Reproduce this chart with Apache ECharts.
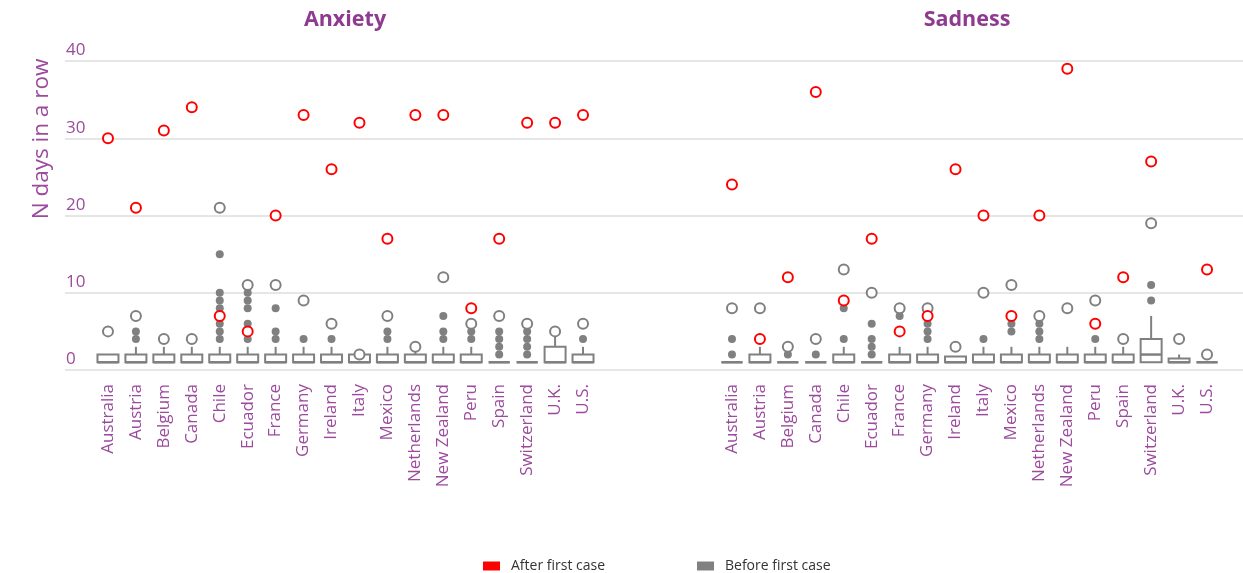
<!DOCTYPE html>
<html>
<head>
<meta charset="utf-8">
<script src="https://cdn.jsdelivr.net/npm/echarts@6/dist/echarts.min.js"></script>
<style>
html,body{margin:0;padding:0;background:#fff;}
#chart{width:1243px;height:573px;}
</style>
</head>
<body>
<div id="chart"></div>
<script>
const countries = ['Australia','Austria','Belgium','Canada','Chile','Ecuador','France','Germany','Ireland','Italy','Mexico','Netherlands','New Zealand','Peru','Spain','Switzerland','U.K.','U.S.'];
const yTicks = [0, 10, 20, 30, 40];

// Anxiety
const anxietyAfter = [30,21,31,34,7,5,20,33,26,32,17,33,33,8,17,32,32,33];
const anxietyBefore = [5,7,4,4,21,11,11,9,6,2,7,3,12,6,7,6,5,6];
// [min, q1, median, q3, max]
const anxietyBox = [
  [1,1,1,2,2],[1,1,1,2,3],[1,1,1,2,3],[1,1,1,2,3],[1,1,1,2,3],[1,1,1,2,3],
  [1,1,1,2,3],[1,1,1,2,3],[1,1,1,2,3],[1,1,1,2,2],[1,1,1,2,3],[1,1,1,2,3],
  [1,1,1,2,3],[1,1,1,2,3],[1,1,1,1,1],[1,1,1,1,1],[1,1,1,3,5],[1,1,1,2,3]
];
const anxietyOutliers = [
  [],[4,5],[],[],[4,5,6,7,8,9,10,15],[4,5,6,8,9,10],[4,5,8],[4],[4],[],[4,5],[],
  [4,5,7],[4,5],[2,3,4,5],[2,3,4,5],[],[4]
];

// Sadness
const sadnessAfter = [24,4,12,36,9,17,5,7,26,20,7,20,39,6,12,27,41,13];
const sadnessBefore = [8,8,3,4,13,10,8,8,3,10,11,7,8,9,4,19,4,2];
const sadnessBox = [
  [1,1,1,1,1],[1,1,1,2,3],[1,1,1,1,1],[1,1,1,1,1],[1,1,1,2,3],[1,1,1,1,1],
  [1,1,1,2,3],[1,1,1,2,3],[1,1,1,1.75,1.75],[1,1,1,2,3],[1,1,1,2,3],[1,1,1,2,3],
  [1,1,1,2,3],[1,1,1,2,3],[1,1,1,2,3],[1,1,2,4,7],[1,1,1,1.5,2],[1,1,1,1,1]
];
const sadnessOutliers = [
  [2,4],[],[2],[2],[4,8],[2,3,4,6],[7],[4,5,6],[],[4],[5,6],[4,5,6],
  [],[4],[],[9,11],[],[]
];

const GRAY = '#808080';
const RED = '#ff0000';
const PURPLE = '#9b4a9d';
const TITLE_PURPLE = '#8e3a8e';
const FONT = 'Open Sans';

function boxRender(params, api) {
  const i = api.value(0);
  const pMin = api.coord([i, api.value(1)]);
  const pQ1 = api.coord([i, api.value(2)]);
  const pMed = api.coord([i, api.value(3)]);
  const pQ3 = api.coord([i, api.value(4)]);
  const pMax = api.coord([i, api.value(5)]);
  const w = 21;
  const x = pQ1[0];
  const st = {stroke: GRAY, lineWidth: 2, fill: null};
  const children = [];
  if (pMax[1] < pQ3[1]) children.push({type:'line', shape:{x1:x, y1:pMax[1], x2:x, y2:pQ3[1]}, style:st});
  if (pMin[1] > pQ1[1]) children.push({type:'line', shape:{x1:x, y1:pQ1[1], x2:x, y2:pMin[1]}, style:st});
  children.push({type:'rect', shape:{x:x-w/2, y:pQ3[1], width:w, height:pQ1[1]-pQ3[1]}, style:{stroke:GRAY, lineWidth:2, fill:'#fff'}});
  children.push({type:'line', shape:{x1:x-w/2, y1:pMed[1], x2:x+w/2, y2:pMed[1]}, style:{stroke:GRAY, lineWidth:2.5}});
  return {type:'group', children};
}

function boxData(arr) { return arr.map((b, i) => [i].concat(b)); }
function outlierData(arr) {
  const out = [];
  arr.forEach((vals, i) => vals.forEach(v => out.push([i, v])));
  return out;
}
function pointData(arr) { return arr.map((v, i) => [i, v]); }

function panelSeries(gi, box, outliers, before, after) {
  return [
    {type:'custom', xAxisIndex:gi, yAxisIndex:gi, renderItem:boxRender, data:boxData(box), silent:true, z:2},
    {type:'scatter', name:'outliers', xAxisIndex:gi, yAxisIndex:gi, data:outlierData(outliers), symbol:'circle', symbolSize:8,
      itemStyle:{color:GRAY, opacity:1}, silent:true, z:3},
    {type:'scatter', name:'Before first case', xAxisIndex:gi, yAxisIndex:gi, data:pointData(before), symbol:'emptyCircle', symbolSize:10,
      itemStyle:{color:GRAY, borderColor:GRAY, borderWidth:2.5, opacity:1}, silent:true, z:4},
    {type:'scatter', name:'After first case', xAxisIndex:gi, yAxisIndex:gi, data:pointData(after), symbol:'emptyCircle', symbolSize:10,
      itemStyle:{color:RED, borderColor:RED, borderWidth:2.5, opacity:1}, silent:true, z:5}
  ];
}

const catAxis = (gi) => ({
  type:'category', gridIndex:gi, data:countries, boundaryGap:true,
  axisLine:{show:false}, axisTick:{show:false}, splitLine:{show:false},
  axisLabel:{rotate:90, color:PURPLE, fontSize:17, fontFamily:FONT, margin:14, interval:0}
});
const valAxis = (gi) => ({
  type:'value', gridIndex:gi, min:0, max:40, show:false, splitLine:{show:false}
});

const chart = echarts.init(document.getElementById('chart'), null, {renderer:'canvas'});
chart.setOption({
  animation:false,
  backgroundColor:'#fff',
  textStyle:{fontFamily:FONT},
  title:[
    {text:'Anxiety', left:340, top:4, textAlign:'center', textStyle:{color:TITLE_PURPLE, fontSize:21.5, fontWeight:'bold', fontFamily:FONT}},
    {text:'Sadness', left:962, top:4, textAlign:'center', textStyle:{color:TITLE_PURPLE, fontSize:21.5, fontWeight:'bold', fontFamily:FONT}}
  ],
  grid:[
    {left:94, top:61, width:503, height:309},
    {left:718, top:61, width:503, height:309},
    {left:65, top:61, right:0, height:309}
  ],
  xAxis:[catAxis(0), catAxis(1), {type:'value', gridIndex:2, min:0, max:1, show:false}],
  yAxis:[valAxis(0), valAxis(1), {
    type:'value', gridIndex:2, min:yTicks[0], max:yTicks[yTicks.length-1], interval:10,
    axisLine:{show:false}, axisTick:{show:false},
    splitLine:{show:true, lineStyle:{color:'#dedede', width:1.5}},
    axisLabel:{inside:true, align:'left', verticalAlign:'bottom', margin:1, padding:[0,0,2,0], color:PURPLE, fontSize:17, fontFamily:FONT}
  }],
  legend:[
    {data:[{name:'After first case', icon:'rect', itemStyle:{color:RED, borderWidth:0}}], left:483, top:559, padding:0, itemWidth:17, itemHeight:9,
      selectedMode:false, textStyle:{fontSize:14, color:'#333', fontFamily:FONT, padding:[0,0,0,6]}},
    {data:[{name:'Before first case', icon:'rect', itemStyle:{color:GRAY, borderWidth:0}}], left:697, top:559, padding:0, itemWidth:17, itemHeight:9,
      selectedMode:false, textStyle:{fontSize:14, color:'#333', fontFamily:FONT, padding:[0,0,0,6]}}
  ],
  graphic:[
    {type:'text', x:42, y:139, rotation:Math.PI/2, style:{text:'N days in a row', align:'center', verticalAlign:'middle', fontSize:22.5, fill:PURPLE, fontFamily:FONT}}
  ],
  series:[].concat(
    panelSeries(0, anxietyBox, anxietyOutliers, anxietyBefore, anxietyAfter),
    panelSeries(1, sadnessBox, sadnessOutliers, sadnessBefore, sadnessAfter)
  )
});
</script>
</body>
</html>
